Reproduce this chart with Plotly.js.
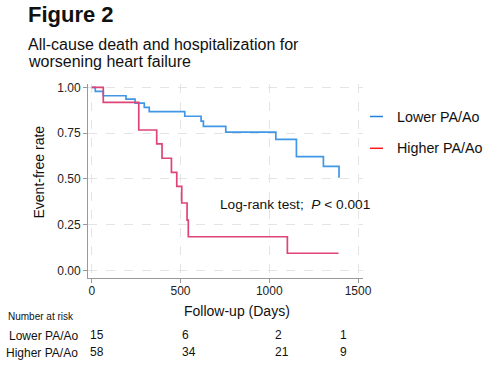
<!DOCTYPE html>
<html>
<head>
<meta charset="utf-8">
<script src="https://cdn.plot.ly/plotly-3.0.1.min.js"></script>
<style>
html,body{margin:0;padding:0;background:#fff;}
#chart{width:498px;height:366px;}
</style>
</head>
<body>
<div id="chart"></div>
<script>
// ---- data ----
var lowerDays = [0, 20, 65, 193, 244, 296, 324, 524, 616, 629, 755, 1037, 1153, 1305, 1393];
var lowerSurv = [1.0, 0.978, 0.954, 0.936, 0.914, 0.891, 0.867, 0.842, 0.815, 0.787, 0.756, 0.716, 0.622, 0.569, 0.507];
var higherDays = [0, 65, 265, 366, 396, 449, 479, 507, 537, 544, 1102, 1390];
var higherSurv = [1.0, 0.918, 0.767, 0.691, 0.613, 0.536, 0.460, 0.369, 0.276, 0.185, 0.095, 0.095];
var seriesNames = ["Lower PA/Ao", "Higher PA/Ao"];
var xTicks = [0, 500, 1000, 1500];
var yTicks = [0, 0.25, 0.5, 0.75, 1.0];
var yTickLabels = ["0.00", "0.25", "0.50", "0.75", "1.00"];
var riskLower = ["15", "6", "2", "1"];
var riskHigher = ["58", "34", "21", "9"];

// ---- layout helpers ----
var W = 498, H = 366;
var M = {l: 88, r: 135, t: 84, b: 88};
var PW = W - M.l - M.r, PH = H - M.t - M.b;
function px(x){ return (x - M.l) / PW; }
function py(y){ return (M.t + PH - y) / PH; }
var FONT = "Liberation Sans, Arial, sans-serif";
var blueLine = "#4097e6", pinkLine = "#de4478";
var blueLeg = "#1f82de", redLeg = "#ff1a1a";

var traces = [
  {x: lowerDays, y: lowerSurv, type: "scatter", mode: "lines", line: {shape: "hv", color: blueLine, width: 1.7}, name: seriesNames[0], showlegend: false, hoverinfo: "skip"},
  {x: higherDays, y: higherSurv, type: "scatter", mode: "lines", line: {shape: "hv", color: pinkLine, width: 1.7}, name: seriesNames[1], showlegend: false, hoverinfo: "skip"}
];

var ann = [];
function txt(t, x, y, size, opts){
  var a = {text: t, x: px(x), y: py(y), xref: "paper", yref: "paper", showarrow: false,
           xanchor: "left", yanchor: "middle", font: {family: FONT, size: size, color: "#111"}};
  for (var k in opts) a[k] = opts[k];
  ann.push(a);
}
txt("<b>Figure 2</b>", 26, 14.5, 22);
txt("All-cause death and hospitalization for", 25.5, 44.5, 16);
txt("worsening heart failure", 25.5, 61.2, 16);
txt("Event-free rate", 38.5, 172, 14, {xanchor: "center", textangle: -90});
txt("Follow-up (Days)", 236.5, 311, 14, {xanchor: "center"});
txt("Log-rank test;\u00a0 <i>P</i> &lt; 0.001", 218, 204, 13.7);
// legend
var legY = [116.5, 148.3], legCols = [blueLeg, redLeg];
var shapes = [];
for (var i = 0; i < 2; i++) {
  shapes.push({type: "line", xref: "paper", yref: "paper", x0: px(370), x1: px(383), y0: py(legY[i]), y1: py(legY[i]), line: {color: legCols[i], width: 1.5}});
  txt(seriesNames[i], 394.5, legY[i], 14.3);
}
// number at risk
txt("Number at risk", 5.5, 316, 10);
txt(seriesNames[0], 80, 336, 12, {xanchor: "right"});
txt(seriesNames[1], 80, 352.5, 12, {xanchor: "right"});
var riskCols = [87.5, 180, 272.5, 338];
for (var j = 0; j < riskCols.length; j++) {
  txt(riskLower[j], riskCols[j], 335, 12);
  txt(riskHigher[j], riskCols[j], 351.5, 12);
}

var layout = {
  width: W, height: H,
  margin: M,
  paper_bgcolor: "#fff", plot_bgcolor: "#fff",
  showlegend: false,
  font: {family: FONT, color: "#111"},
  xaxis: {range: [-21, 1528], tickvals: xTicks, ticktext: xTicks.map(String), ticks: "outside", ticklen: 4, tickcolor: "#999",
          ticklabelstandoff: -2,
          showline: true, linecolor: "#999", linewidth: 1, zeroline: false,
          showgrid: true, gridcolor: "#e4e4e4", griddash: "dash", gridwidth: 1,
          tickfont: {family: FONT, size: 12, color: "#222"}},
  yaxis: {range: [-0.04, 1.018], tickvals: yTicks, ticktext: yTickLabels, ticks: "outside", ticklen: 4, tickcolor: "#999",
          showline: true, linecolor: "#999", linewidth: 1, zeroline: false,
          showgrid: true, gridcolor: "#e4e4e4", griddash: "dash", gridwidth: 1,
          tickfont: {family: FONT, size: 12, color: "#222"}},
  annotations: ann,
  shapes: shapes
};
Plotly.newPlot("chart", traces, layout, {displayModeBar: false, staticPlot: true});
</script>
</body>
</html>
